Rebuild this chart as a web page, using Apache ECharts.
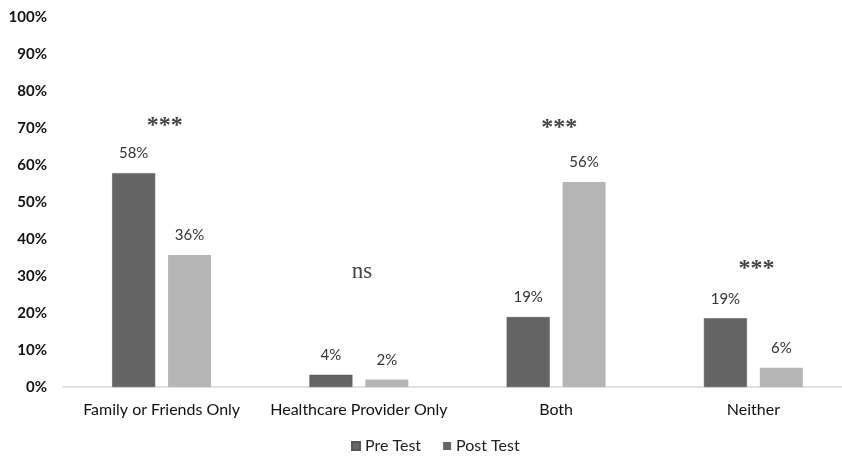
<!DOCTYPE html>
<html>
<head>
<meta charset="utf-8">
<script src="https://cdn.jsdelivr.net/npm/echarts@6/dist/echarts.min.js"></script>
<style>html,body{margin:0;padding:0;background:#fff}#c{width:842px;height:460px}</style>
</head>
<body>
<div id="c"></div>
<script>
var categories = ['Family or Friends Only', 'Healthcare Provider Only', 'Both', 'Neither'];
var preValues = [57.8, 3.3, 18.9, 18.6];
var postValues = [35.7, 2.0, 55.4, 5.2];
var preLabels = ['58%', '4%', '19%', '19%'];
var postLabels = ['36%', '2%', '56%', '6%'];
var sigLabels = ['***', 'ns', '***', '***'];
var sigHeights = [70.5, 31, 70, 32];

var chart = echarts.init(document.getElementById('c'));
var font = 'Lato, "Open Sans", sans-serif';
chart.setOption({
  animation: false,
  backgroundColor: '#fff',
  grid: { left: 63, width: 789, top: 17, bottom: 73, containLabel: false, outerBoundsMode: 'none' },
  legend: {
    bottom: 1, left: 346,
    itemWidth: 8, itemHeight: 8, itemGap: 22,
    icon: 'rect',
    textStyle: { fontFamily: font, fontSize: 16, color: '#222' },
    data: [
      { name: 'Pre Test', itemStyle: { color: '#666666' } },
      { name: 'Post Test', itemStyle: { color: '#666666' } }
    ]
  },
  xAxis: {
    type: 'category',
    data: categories,
    axisLine: { lineStyle: { color: '#d9d9d9', width: 1.5 } },
    axisTick: { show: false },
    axisLabel: { interval: 0, fontFamily: font, fontSize: 16, color: '#111', margin: 15 }
  },
  yAxis: {
    type: 'value', min: 0, max: 100, interval: 10,
    splitLine: { show: false },
    axisLine: { show: false },
    axisTick: { show: false },
    axisLabel: { fontFamily: font, fontSize: 15, fontWeight: 'bold', color: '#111', margin: 16,
      formatter: function (v) { return v + '%'; } }
  },
  series: [
    {
      name: 'Pre Test', type: 'bar', data: preValues, barWidth: 43, barGap: '30%',
      itemStyle: { color: '#646464', borderColor: '#555', borderWidth: 0.5 },
      label: { show: true, position: 'top', distance: 12, fontFamily: font, fontSize: 15, color: '#333',
        formatter: function (p) { return preLabels[p.dataIndex]; } }
    },
    {
      name: 'Post Test', type: 'bar', data: postValues, barWidth: 43,
      itemStyle: { color: '#b5b5b5' },
      label: { show: true, position: 'top', distance: 12, fontFamily: font, fontSize: 15, color: '#333',
        formatter: function (p) { return postLabels[p.dataIndex]; } }
    },
    {
      name: 'sig', type: 'scatter', symbolSize: 0, silent: true,
      data: sigHeights.map(function (h, i) {
        var isStar = sigLabels[i] === '***';
        return { value: [i, h], label: { fontWeight: isStar ? 'bold' : 'normal', fontSize: isStar ? 24 : 23 } };
      }),
      label: { show: true, position: 'inside', offset: [3, 0],
        fontFamily: '"Liberation Serif", "DejaVu Serif", serif', fontSize: 23, color: '#111',
        formatter: function (p) { return sigLabels[p.dataIndex]; } }
    }
  ]
});
</script>
</body>
</html>
